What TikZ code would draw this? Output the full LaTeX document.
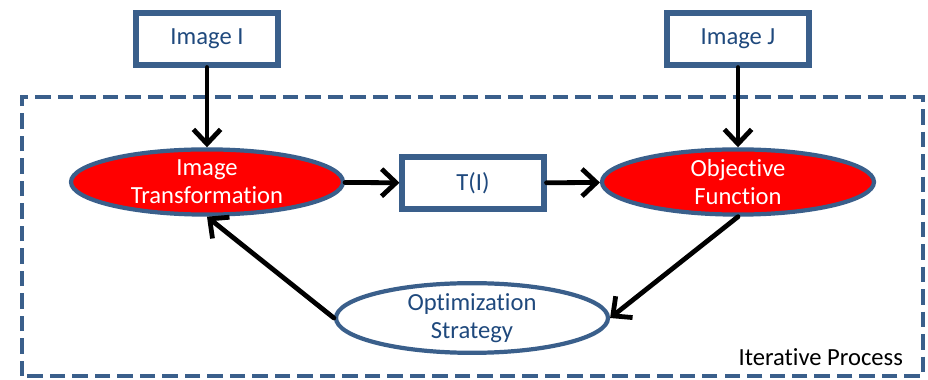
\documentclass[tikz,border=0pt]{standalone}
\usepackage{fontspec}
\setmainfont{Carlito}[RawFeature=-liga]
\usetikzlibrary{shapes.geometric}
\usetikzlibrary{arrows.meta}
\definecolor{bordblue}{HTML}{3A5F8B}
\definecolor{txtblue}{HTML}{1F497D}
\tikzstyle{every node}=[font=\fontsize{17.5}{20}\selectfont,align=center]
\tikzstyle{every path}=[line width=3.4pt,line cap=round,line join=round]
\tikzstyle{imgbox}=[draw=bordblue,line width=3.6pt,line join=miter,text=txtblue,minimum width=3.55cm,minimum height=1.3cm,inner sep=0pt]
\tikzstyle{redell}=[ellipse,draw=bordblue,line width=3pt,fill=red,text=white,minimum width=6.8cm,minimum height=1.63cm,inner sep=0pt]
\tikzstyle{flow}=[draw=black,-{Straight Barb[length=0.36cm,width=0.68cm]}]

\begin{document}
\begin{tikzpicture}
\useasboundingbox (0,0) rectangle (23.2,9.5);
%process frame
\draw[bordblue,line width=3.4pt,line cap=butt,line join=miter,dash pattern=on 11pt off 5pt]
(0.55,0.1) rectangle (23.075,7.075);
\node[anchor=east] (iter) at (22.75,0.58) {Iterative Process};
%nodes
\node[imgbox] (imgI) at (5.175,8.525) {Image I};
\node[imgbox] (imgJ) at (18.45,8.525) {Image J};
\node[redell] (trans) at (5.175,4.95) {Image\\Transformation};
\node[imgbox] (TI) at (11.825,4.925) {T(I)};
\node[redell] (obj) at (18.45,4.95) {Objective\\Function};
\node[ellipse,draw=bordblue,line width=3pt,fill=white,text=txtblue,minimum width=6.8cm,minimum height=1.3cm,inner sep=0pt]
(opt) at (11.8,1.55) {Optimization\\Strategy};
%arrows
\draw[flow] (imgI) -- (trans);
\draw[flow] (imgJ) -- (obj);
\draw[flow] (trans) -- (TI);
\draw[flow] (TI) -- (obj);
\draw[flow] (obj.south) -- (opt.east);
\draw[flow] (opt.west) -- (trans.south);
\end{tikzpicture}
\end{document}
